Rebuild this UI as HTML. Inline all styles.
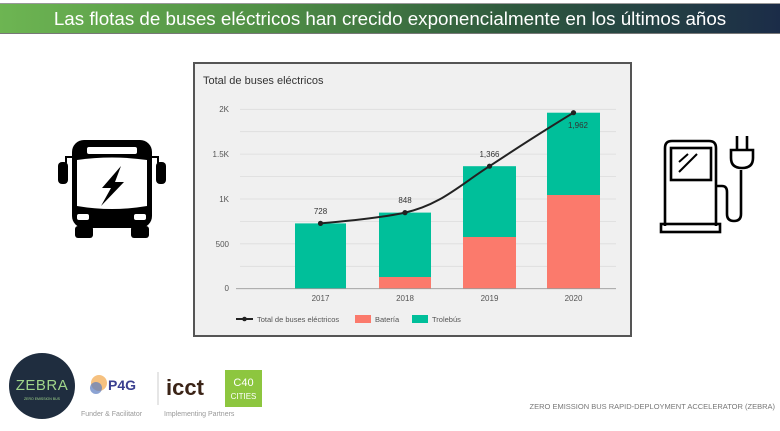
<!DOCTYPE html>
<html><head><meta charset="utf-8"><style>
body{margin:0;width:780px;height:431px;background:#fff;overflow:hidden;font-family:"Liberation Sans",sans-serif;position:relative}
.title{position:absolute;left:0;top:3px;width:780px;height:29px;background:linear-gradient(90deg,#6db552 0%,#4f8e45 35%,#2f5a3e 65%,#1b2c48 100%);border-top:1px solid #999;border-bottom:1px solid #777;color:#fff;font-size:18.8px;line-height:29px;text-align:center}
</style></head><body>
<div class="title">Las flotas de buses eléctricos han crecido exponencialmente en los últimos años</div>
<svg width="780" height="431" style="position:absolute;left:0;top:0" font-family="Liberation Sans, sans-serif">
<rect x="194" y="63" width="437" height="273" fill="#f0f0f0" stroke="#555" stroke-width="2"/>
<text x="203" y="84" font-size="11" fill="#333">Total de buses eléctricos</text>
<g stroke="#dcdcdc" stroke-width="0.8">
<line x1="240" x2="616" y1="109.3" y2="109.3"/><line x1="240" x2="616" y1="131.7" y2="131.7"/>
<line x1="240" x2="616" y1="154.1" y2="154.1"/><line x1="240" x2="616" y1="176.6" y2="176.6"/>
<line x1="240" x2="616" y1="199" y2="199"/><line x1="240" x2="616" y1="221.4" y2="221.4"/>
<line x1="240" x2="616" y1="243.8" y2="243.8"/><line x1="240" x2="616" y1="266.3" y2="266.3"/>
</g>
<g font-size="8" fill="#555" text-anchor="end">
<text x="229" y="112">2K</text><text x="229" y="157">1.5K</text><text x="229" y="202">1K</text><text x="229" y="247">500</text><text x="229" y="291">0</text>
</g>
<rect x="295" y="223.4" width="51" height="65.3" fill="#00bf9a"/>
<rect x="379" y="212.6" width="52" height="64.4" fill="#00bf9a"/>
<rect x="379" y="277" width="52" height="11.7" fill="#fb7a6c"/>
<rect x="463" y="166.2" width="53" height="70.8" fill="#00bf9a"/>
<rect x="463" y="237" width="53" height="51.7" fill="#fb7a6c"/>
<rect x="547" y="112.7" width="53" height="82.3" fill="#00bf9a"/>
<rect x="547" y="195" width="53" height="93.7" fill="#fb7a6c"/>
<line x1="236" x2="616" y1="288.7" y2="288.7" stroke="#999" stroke-width="0.8"/>
<g font-size="8" fill="#555" text-anchor="middle">
<text x="320.5" y="301">2017</text><text x="405" y="301">2018</text><text x="489.5" y="301">2019</text><text x="573.5" y="301">2020</text>
</g>
<path d="M320.5,223.4 C360,220 385,217 405,212.6 C440,205 460,185 489.5,166.2 C520,146 545,130 573.5,112.7" fill="none" stroke="#222" stroke-width="2"/>
<g fill="#222"><circle cx="320.5" cy="223.4" r="2.6"/><circle cx="405" cy="212.6" r="2.6"/><circle cx="489.5" cy="166.2" r="2.6"/><circle cx="573.5" cy="112.7" r="2.6"/></g>
<g font-size="8" fill="#333" text-anchor="middle">
<text x="320.5" y="214">728</text><text x="405" y="203">848</text><text x="489.5" y="157">1,366</text><text x="578" y="128">1,962</text>
</g>
<line x1="236" x2="253" y1="319" y2="319" stroke="#222" stroke-width="2"/><circle cx="244.5" cy="319" r="2.3" fill="#222"/>
<text x="257" y="322" font-size="7.5" fill="#555">Total de buses eléctricos</text>
<rect x="355" y="315" width="16" height="8" fill="#fb7a6c"/><text x="375" y="322" font-size="7.5" fill="#555">Batería</text>
<rect x="412" y="315" width="16" height="8" fill="#00bf9a"/><text x="432" y="322" font-size="7.5" fill="#555">Trolebús</text>
<g fill="#000">
<rect x="72" y="140" width="80" height="88" rx="12"/>
<rect x="75" y="226" width="18" height="12" rx="3"/><rect x="131" y="226" width="18" height="12" rx="3"/>
<rect x="58" y="162" width="10" height="22" rx="4"/><rect x="156" y="162" width="10" height="22" rx="4"/>
<path d="M66,163 L66,157 L74,157" fill="none" stroke="#000" stroke-width="2"/>
<path d="M158,163 L158,157 L150,157" fill="none" stroke="#000" stroke-width="2"/>
</g>
<rect x="87" y="147" width="50" height="7" rx="2" fill="#fff"/>
<path d="M77,160 Q112,155 147,160 L147,206 Q112,212 77,206 Z" fill="#fff"/>
<path d="M121,166 L102,188 L111,188 L101,206 L124,182 L115,182 L121,166 Z" fill="#000"/>
<rect x="77" y="214" width="12" height="6" rx="2" fill="#fff"/><rect x="134" y="214" width="12" height="6" rx="2" fill="#fff"/>
<g fill="none" stroke="#000" stroke-width="2.6">
<path d="M665,226 L665,148 Q665,141 672,141 L709,141 Q716,141 716,148 L716,226"/>
<rect x="671" y="148" width="40" height="32"/>
<rect x="661" y="224" width="59" height="8"/>
<line x1="679" y1="162" x2="688" y2="154" stroke-width="2"/><line x1="679" y1="172" x2="697" y2="154" stroke-width="2"/>
<path d="M716,186 L722,186 Q727,186 727,192 L727,214 Q727,221 734,221 Q741,221 741,214 L741,170"/>
<path d="M731,150 L753,150 L753,158 Q753,168 742,168 Q731,168 731,158 Z"/>
<line x1="737" y1="150" x2="737" y2="136"/><line x1="747" y1="150" x2="747" y2="136"/>
</g>
<circle cx="42" cy="386" r="33" fill="#1f2d3f"/>
<text x="42" y="390" font-size="15" fill="#9fd58a" text-anchor="middle" letter-spacing="0.5">ZEBRA</text>
<text x="42" y="400" font-size="3.5" fill="#9fd58a" text-anchor="middle">ZERO EMISSION BUS</text>
<circle cx="99" cy="383" r="8" fill="#f2a64a" opacity="0.7"/><circle cx="96" cy="388" r="6" fill="#5b7cc0" opacity="0.7"/>
<text x="108" y="390" font-size="14" fill="#3a3f8f" font-weight="bold">P4G</text>
<text x="81" y="416" font-size="7" fill="#999">Funder &amp; Facilitator</text>
<line x1="158" y1="372" x2="158" y2="405" stroke="#ccc"/>
<text x="166" y="395" font-size="22" fill="#3b2417" font-weight="bold">icct</text>
<text x="164" y="416" font-size="7" fill="#999">Implementing Partners</text>
<rect x="225" y="370" width="37" height="37" fill="#8dc63f"/>
<text x="243.5" y="386" font-size="11" fill="#fff" text-anchor="middle">C40</text>
<text x="243.5" y="399" font-size="8" fill="#fff" text-anchor="middle">CITIES</text>
<text x="775" y="409" font-size="7.5" fill="#777" text-anchor="end">ZERO EMISSION BUS RAPID-DEPLOYMENT ACCELERATOR (ZEBRA)</text>
</svg>
</body></html>
